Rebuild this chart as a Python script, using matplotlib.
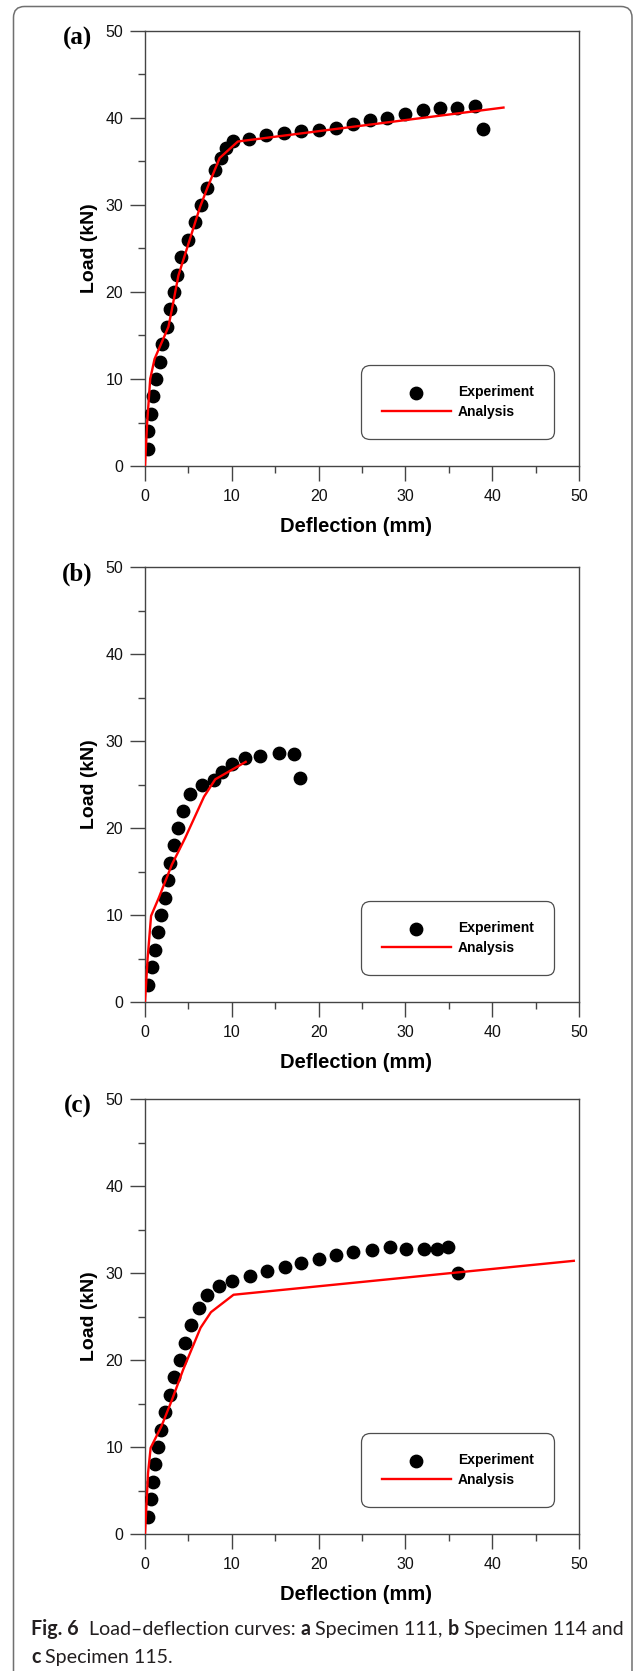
import matplotlib
matplotlib.use('Agg')
import matplotlib.pyplot as plt
import matplotlib.transforms as mtransforms
from matplotlib.patches import FancyBboxPatch
from matplotlib.ticker import MultipleLocator

# Specimen 111
a_exp_x = [0.3, 0.4, 0.65, 0.9, 1.3, 1.7, 2.0, 2.5, 2.85, 3.3, 3.65, 4.2, 5.0, 5.8,
           6.5, 7.2, 8.1, 8.7, 9.3, 10.1, 12.0, 13.9, 16.0, 18.0, 20.0, 22.0, 24.0,
           25.9, 27.9, 30.0, 32.0, 34.0, 36.0, 38.0, 38.9]
a_exp_y = [2, 4, 6, 8, 10, 12, 14, 16, 18, 20, 22, 24, 26, 28, 30, 32, 34, 35.4, 36.6,
           37.4, 37.6, 38.0, 38.3, 38.5, 38.6, 38.9, 39.3, 39.8, 40.0, 40.5, 40.9, 41.2,
           41.2, 41.35, 38.7]
a_fem_x = [0, 0.25, 0.6, 1.1, 2.7, 3.1, 3.85, 6.35, 7.2, 8.6, 10.7, 41.3]
a_fem_y = [0, 5, 10, 12.3, 16, 18, 21.9, 29.8, 32, 35.4, 37.3, 41.2]

# Specimen 114
b_exp_x = [0.35, 0.8, 1.2, 1.5, 1.9, 2.35, 2.6, 2.9, 3.3, 3.8, 4.35, 5.2, 6.6, 7.9,
           8.9, 10.0, 11.5, 13.3, 15.4, 17.2, 17.8]
b_exp_y = [2, 4, 6, 8, 10, 12, 14, 16, 18, 20, 22, 23.9, 25, 25.5, 26.4, 27.3, 28.0,
           28.25, 28.6, 28.55, 25.7]
b_fem_x = [0, 0.3, 0.7, 1.6, 3.1, 4.6, 6.8, 8.1, 11.6]
b_fem_y = [0, 5, 9.9, 12, 15.8, 18.8, 23.6, 25.6, 27.6]

# Specimen 115
c_exp_x = [0.3, 0.65, 0.9, 1.2, 1.45, 1.85, 2.35, 2.85, 3.35, 4.0, 4.6, 5.25, 6.2, 7.1,
           8.5, 10.0, 12.1, 14.1, 16.1, 18.0, 20.0, 22.0, 24.0, 26.1, 28.2, 30.1, 32.1,
           33.6, 34.9, 36.05]
c_exp_y = [2, 4, 6, 8, 10, 12, 14, 16, 18, 20, 22, 24, 26, 27.5, 28.5, 29.1, 29.7, 30.2,
           30.7, 31.2, 31.6, 32.1, 32.45, 32.7, 33.0, 32.8, 32.8, 32.8, 32.95, 30.0]
c_fem_x = [0, 0.35, 0.65, 1.9, 3.1, 4.4, 6.4, 7.6, 10.2, 49.4]
c_fem_y = [0, 7, 9.9, 12.4, 15.4, 18.9, 23.7, 25.5, 27.5, 31.4]

panels = [
    ('(a)', a_exp_x, a_exp_y, a_fem_x, a_fem_y),
    ('(b)', b_exp_x, b_exp_y, b_fem_x, b_fem_y),
    ('(c)', c_exp_x, c_exp_y, c_fem_x, c_fem_y),
]

caption_lines = [
    [('Fig. 6', 'bold'), ('  Load\u2013deflection curves: ', 'normal'), ('a', 'bold'),
     (' Specimen 111, ', 'normal'), ('b', 'bold'), (' Specimen 114 and', 'normal')],
    [('c', 'bold'), (' Specimen 115.', 'normal')],
]

W, H = 637, 1671
plt.rcParams['font.family'] = ['Liberation Sans', 'DejaVu Sans']
fig = plt.figure(figsize=(W / 100, H / 100), dpi=100)
fig.patch.set_facecolor('white')

# outer frame, open at the bottom
frame = FancyBboxPatch((13.5, -40), 618.5, H - 6.5 + 40,
                       boxstyle='round,pad=0,rounding_size=11',
                       transform=mtransforms.IdentityTransform(),
                       facecolor='none', edgecolor='#707070', linewidth=1.1)
fig.add_artist(frame)

spine_col = '#444444'
tops = [31, 567, 1099]
ax_left, ax_w, ax_h = 145, 434, 435

for (tag, ex, ey, fx, fy), top in zip(panels, tops):
    ax = fig.add_axes([ax_left / W, 1 - (top + ax_h) / H, ax_w / W, ax_h / H])
    ax.scatter(ex, ey, s=80, color='black', zorder=3, label='Experiment')
    ax.plot(fx, fy, color='#ff0000', linewidth=1.7, zorder=4, label='Analysis')

    ax.set_xlim(0, 50)
    ax.set_ylim(0, 50)
    ax.xaxis.set_major_locator(MultipleLocator(10))
    ax.xaxis.set_minor_locator(MultipleLocator(5))
    ax.yaxis.set_major_locator(MultipleLocator(10))
    ax.yaxis.set_minor_locator(MultipleLocator(5))
    ax.tick_params(which='both', direction='out', colors=spine_col, labelcolor='#111111',
                   width=1.0, top=False, right=False)
    ax.tick_params(which='major', length=10.6, labelsize=11.5)
    ax.tick_params(axis='x', which='major', pad=6)
    ax.tick_params(axis='y', which='major', pad=5)
    ax.tick_params(which='minor', length=5.2)
    for sp in ax.spines.values():
        sp.set_color(spine_col)
        sp.set_linewidth(1.0)

    ax.set_xlabel('Deflection (mm)', fontsize=14.5, fontweight='bold', va='center')
    ax.xaxis.set_label_coords(0.487, -61 / ax_h)
    ax.set_ylabel('Load (kN)', fontsize=14, fontweight='bold', va='center')
    ax.yaxis.set_label_coords(-56 / ax_w, 0.5)

    ax.text(-67.5 / ax_w, 1 - 7.5 / ax_h, tag, transform=ax.transAxes,
            ha='center', va='center', fontsize=18, fontweight='bold',
            family=['Liberation Serif', 'DejaVu Serif'])

    leg = ax.legend(loc='lower right', bbox_to_anchor=(1 - 25 / ax_w, 27 / ax_h),
                    borderaxespad=0, frameon=True, fancybox=True,
                    prop={'weight': 'bold', 'size': 10}, handlelength=5.0,
                    handletextpad=0.5, borderpad=1.45, labelspacing=0.4,
                    scatterpoints=1)
    leg.get_frame().set_edgecolor('#222222')
    leg.get_frame().set_linewidth(0.9)
    leg.get_frame().set_boxstyle('round', pad=0, rounding_size=0.6)

# caption with mixed weights, laid out run by run in pixel coordinates
renderer = fig.canvas.get_renderer()
cap_kw = dict(fontsize=14.1, color='#231f20', family=['Lato', 'DejaVu Sans'])
probe = fig.text(0, 0, 'a a', transform=mtransforms.IdentityTransform(), **cap_kw)
w_aa = fig.text(0, 0, 'aa', transform=mtransforms.IdentityTransform(), **cap_kw)
space_w = (probe.get_window_extent(renderer).width
           - w_aa.get_window_extent(renderer).width)
probe.remove()
w_aa.remove()

baselines = [1635, 1663]
for runs, base in zip(caption_lines, baselines):
    x = 31
    for txt, weight in runs:
        core = txt.strip(' ')
        lead = len(txt) - len(txt.lstrip(' '))
        trail = len(txt) - len(txt.rstrip(' '))
        x += lead * space_w
        t = fig.text(x, H - base, core, transform=mtransforms.IdentityTransform(),
                     ha='left', va='baseline', fontweight=weight, **cap_kw)
        x += t.get_window_extent(renderer).width + trail * space_w

fig.savefig('out.png', dpi=100, facecolor='white')
